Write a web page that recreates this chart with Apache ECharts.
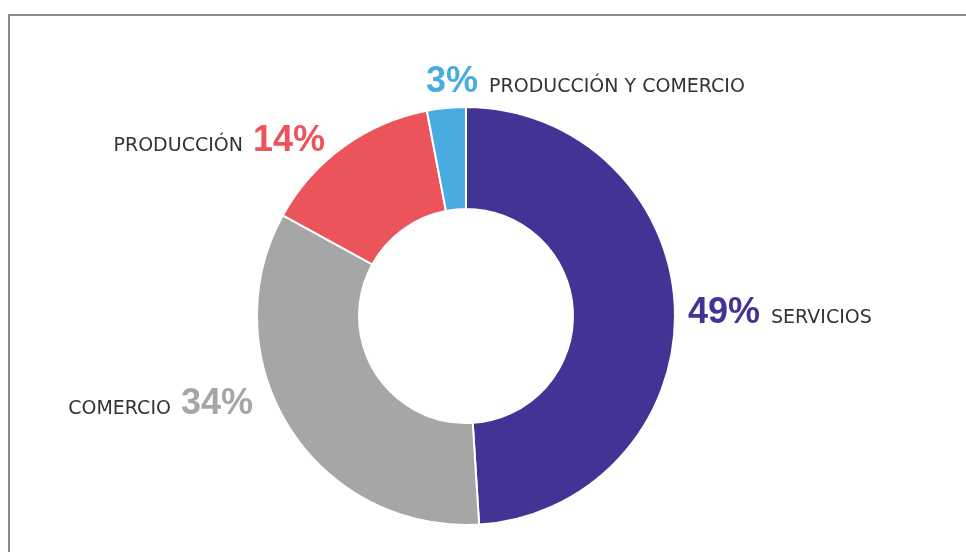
<!DOCTYPE html>
<html>
<head>
<meta charset="utf-8">
<style>
  html, body { margin: 0; padding: 0; background: #ffffff; }
  #chart { width: 966px; height: 552px; }
</style>
<script src="https://cdn.jsdelivr.net/npm/echarts@6/dist/echarts.min.js"></script>
</head>
<body>
<div id="chart"></div>
<script>
// Sectors, in clockwise order starting at 12 o'clock
const categories = ['SERVICIOS', 'COMERCIO', 'PRODUCCIÓN', 'PRODUCCIÓN Y COMERCIO'];
const shares = [49, 34, 14, 3];

// Slice colours
const palette = ['#433395', '#a6a6a6', '#ea545a', '#48ace1'];

// Label anchors: where each label sits and whether the percentage leads
const labelSpots = [
  { x: 688, y: 331, align: 'left',  pctFirst: true  },
  { x: 253, y: 422, align: 'right', pctFirst: false },
  { x: 325, y: 159, align: 'right', pctFirst: false },
  { x: 426, y: 100, align: 'left',  pctFirst: true  }
];

const nameFont = '"DejaVu Sans", Verdana, sans-serif';
const pctFont = '"Liberation Sans", Arial, sans-serif';

const rich = {
  nL: { fontFamily: nameFont, fontSize: 19, color: '#333333', padding: [0, 10, 3, 0], verticalAlign: 'bottom' },
  nR: { fontFamily: nameFont, fontSize: 19, color: '#333333', padding: [0, 0, 3, 11], verticalAlign: 'bottom' }
};
palette.forEach((c, i) => {
  rich['p' + i] = { fontFamily: pctFont, fontWeight: 'bold', fontSize: 36, color: c, verticalAlign: 'bottom' };
});

const chart = echarts.init(document.getElementById('chart'), null, { renderer: 'canvas' });

chart.setOption({
  animation: false,
  backgroundColor: '#ffffff',
  graphic: [{
    type: 'polyline',
    shape: { points: [[9, 552], [9, 15], [966, 15]] },
    style: { stroke: '#8a8a8a', lineWidth: 2, fill: null }
  }],
  series: [{
    type: 'pie',
    center: [466, 316],
    radius: [107, 209],
    startAngle: 90,
    clockwise: true,
    avoidLabelOverlap: false,
    itemStyle: { borderColor: '#ffffff', borderWidth: 2 },
    labelLine: { show: false },
    label: {
      show: true,
      position: 'outside',
      rich: rich,
      formatter: function (p) {
        const pct = '{p' + p.dataIndex + '|' + p.value + '%}';
        return labelSpots[p.dataIndex].pctFirst
          ? pct + '{nR|' + p.name + '}'
          : '{nL|' + p.name + '}' + pct;
      }
    },
    labelLayout: function (params) {
      const s = labelSpots[params.dataIndex];
      return { x: s.x, y: s.y, align: s.align, verticalAlign: 'bottom' };
    },
    emphasis: { disabled: true },
    data: categories.map((name, i) => ({
      name: name,
      value: shares[i],
      itemStyle: { color: palette[i] }
    }))
  }]
});
</script>
</body>
</html>
